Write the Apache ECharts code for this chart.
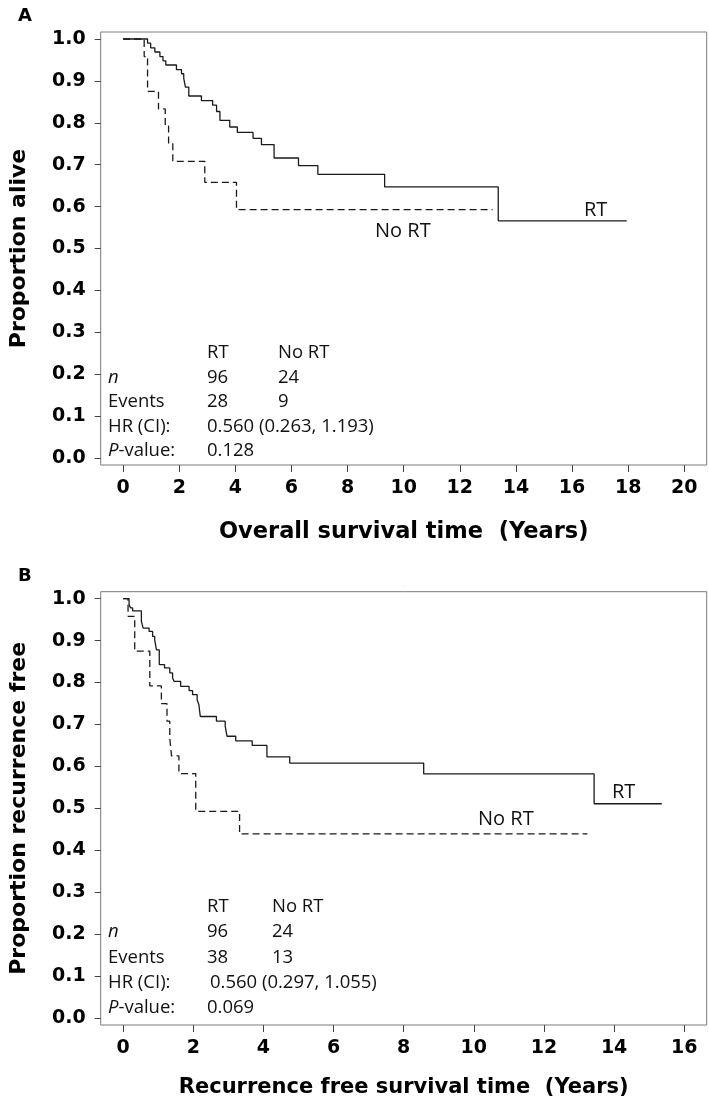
<!DOCTYPE html>
<html>
<head>
<meta charset="utf-8">
<script src="https://cdn.jsdelivr.net/npm/echarts@6/dist/echarts.min.js"></script>
<style>
html,body{margin:0;padding:0;background:#fff;}
#c{width:709px;height:1111px;}
</style>
</head>
<body>
<div id="c"></div>
<script>
// ---- Data ----
// Panel A: overall survival, [years, proportion alive]
var osRT = [[0,1],[0.87,0.99],[0.98,0.979],[1.13,0.969],[1.31,0.958],[1.42,0.948],[1.52,0.938],[1.90,0.927],[2.08,0.917],[2.16,0.906],[2.22,0.885],[2.34,0.864],[2.79,0.853],[3.19,0.842],[3.33,0.827],[3.45,0.806],[3.80,0.790],[4.07,0.777],[4.63,0.763],[4.93,0.748],[5.38,0.716],[6.25,0.698],[6.94,0.677],[9.32,0.647],[13.37,0.566],[17.95,0.566]];
var osNoRT = [[0,1],[0.75,0.958],[0.87,0.875],[1.26,0.833],[1.50,0.792],[1.62,0.75],[1.77,0.708],[2.91,0.658],[4.04,0.593],[13.17,0.593]];
// Panel B: recurrence free survival, [years, proportion recurrence free]
var rfsRT = [[0,1],[0.17,0.986],[0.21,0.978],[0.27,0.971],[0.52,0.946],[0.57,0.930],[0.74,0.922],[0.84,0.910],[0.90,0.902],[0.95,0.878],[1.03,0.843],[1.18,0.835],[1.33,0.823],[1.41,0.811],[1.45,0.803],[1.64,0.791],[1.88,0.781],[1.98,0.771],[2.11,0.759],[2.16,0.747],[2.20,0.719],[2.66,0.708],[2.91,0.696],[2.96,0.672],[3.21,0.661],[3.68,0.650],[4.10,0.623],[4.75,0.608],[8.57,0.582],[13.43,0.511],[15.36,0.511]];
var rfsNoRT = [[0,1],[0.14,0.958],[0.33,0.875],[0.76,0.792],[1.09,0.75],[1.25,0.708],[1.33,0.667],[1.38,0.625],[1.59,0.583],[2.07,0.493],[3.32,0.439],[13.24,0.439]];

var xTicksA = [0,2,4,6,8,10,12,14,16,18,20];
var xTicksB = [0,2,4,6,8,10,12,14,16];
var yTicks = [0,0.1,0.2,0.3,0.4,0.5,0.6,0.7,0.8,0.9,1.0];

var tableHeader = ['RT', 'No RT'];
var statsA = {n: ['96','24'], events: ['28','9'], hr: '0.560 (0.263, 1.193)', p: '0.128'};
var statsB = {n: ['96','24'], events: ['38','13'], hr: '0.560 (0.297, 1.055)', p: '0.069'};

// ---- Chart ----
var chart = echarts.init(document.getElementById('c'), null, {renderer: 'canvas'});
var tickFont = {fontFamily: 'DejaVu Sans', fontWeight: 'bold', fontSize: 19, color: '#000'};
var annFont = 'Open Sans';
var annSize = 18.5;

function xAxis(gi, max, ticks, name, nsize, ngap) {
  return {
    type: 'value', gridIndex: gi, min: -0.04 * max, max: max * 1.04,
    axisLine: {show: false, onZero: false},
    axisTick: {show: true, customValues: ticks, length: 7, lineStyle: {color: '#444', width: 1}},
    axisLabel: Object.assign({customValues: ticks, margin: 14, formatter: function(v){return String(v);}}, tickFont),
    splitLine: {show: false},
    name: name, nameLocation: 'middle', nameGap: ngap,
    nameTextStyle: {fontFamily: 'DejaVu Sans', fontWeight: 'bold', fontSize: nsize, color: '#000'}
  };
}
function yAxis(gi, name) {
  return {
    type: 'value', gridIndex: gi, min: -0.0167, max: 1.0167,
    axisLine: {show: false, onZero: false},
    axisTick: {show: true, customValues: yTicks, length: 6, lineStyle: {color: '#444', width: 1}},
    axisLabel: Object.assign({customValues: yTicks, margin: 15, formatter: function(v){return v.toFixed(1);}}, tickFont),
    splitLine: {show: false},
    name: name, nameLocation: 'middle', nameGap: 70,
    nameTextStyle: {fontFamily: 'DejaVu Sans', fontWeight: 'bold', fontSize: 22, color: '#000'}
  };
}
function km(data, xi, dashed) {
  return {
    type: 'line', xAxisIndex: xi, yAxisIndex: xi, step: 'end', data: data,
    showSymbol: false, symbol: 'none', silent: true, animation: false,
    lineStyle: {color: '#1a1a1a', width: 1.3, type: dashed ? [7, 4] : 'solid'}
  };
}
function txt(x, y, s, size) {
  var fs = size || annSize;
  return {
    type: 'text', x: x, y: y,
    style: {text: s, fontFamily: annFont, fontSize: fs, fill: '#111', textVerticalAlign: 'middle',
      rich: {i: {fontFamily: annFont, fontSize: fs, fontStyle: 'italic', fill: '#111'}}}
  };
}
function table(top, gap, stats, col2x, hrx) {
  var L = 108, c1 = 207;
  return [
    txt(c1, top, tableHeader[0]), txt(col2x, top, tableHeader[1]),
    txt(L, top + gap, '{i|n}'), txt(c1, top + gap, stats.n[0]), txt(col2x, top + gap, stats.n[1]),
    txt(L, top + 2*gap, 'Events'), txt(c1, top + 2*gap, stats.events[0]), txt(col2x, top + 2*gap, stats.events[1]),
    txt(L, top + 3*gap, 'HR (CI):'), txt(hrx, top + 3*gap, stats.hr),
    txt(L, top + 4*gap, '{i|P}-value:'), txt(c1, top + 4*gap, stats.p)
  ];
}

var graphics = [
  {type: 'text', x: 18, y: 16, style: {text: 'A', fontFamily: 'DejaVu Sans', fontWeight: 'bold', fontSize: 18, fill: '#000', textVerticalAlign: 'middle'}},
  {type: 'text', x: 18, y: 576, style: {text: 'B', fontFamily: 'DejaVu Sans', fontWeight: 'bold', fontSize: 18, fill: '#000', textVerticalAlign: 'middle'}},
  txt(584, 210, 'RT', 20),
  txt(375, 231, 'No RT', 20),
  txt(612, 792, 'RT', 20),
  txt(478, 819, 'No RT', 20)
].concat(table(353, 24.5, statsA, 278, 207)).concat(table(907, 25.2, statsB, 272, 210));

chart.setOption({
  animation: false,
  backgroundColor: '#fff',
  grid: [
    {left: 100.7, top: 32, width: 606, height: 433, show: true, borderColor: '#7a7a7a', borderWidth: 1, backgroundColor: 'transparent'},
    {left: 100.7, top: 591.7, width: 606, height: 433.3, show: true, borderColor: '#7a7a7a', borderWidth: 1, backgroundColor: 'transparent'}
  ],
  xAxis: [xAxis(0, 20, xTicksA, 'Overall survival time  (Years)', 22.5, 56), xAxis(1, 16, xTicksB, 'Recurrence free survival time  (Years)', 21, 52)],
  yAxis: [yAxis(0, 'Proportion alive'), yAxis(1, 'Proportion recurrence free')],
  series: [km(osRT, 0, false), km(osNoRT, 0, true), km(rfsRT, 1, false), km(rfsNoRT, 1, true)],
  graphic: graphics
});
</script>
</body>
</html>
